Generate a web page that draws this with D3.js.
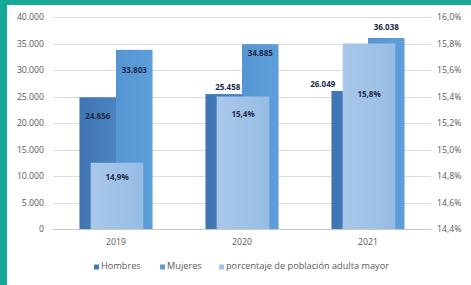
<!DOCTYPE html>
<html><head><meta charset="utf-8">
<script src="https://cdn.jsdelivr.net/npm/d3@7"></script>
<style>
html,body{margin:0;padding:0;background:#fff;}
svg{display:block;font-family:"Open Sans",Calibri,"Liberation Sans",sans-serif;}
</style></head>
<body><svg id="c" width="471" height="285"></svg>
<script>
const years = ["2019","2020","2021"];
const hombres = [24856, 25458, 26049];
const mujeres = [33803, 34885, 36038];
const porcentaje = [14.9, 15.4, 15.8];
const leftTicks = [0,5000,10000,15000,20000,25000,30000,35000,40000];
const rightTicks = [14.4,14.6,14.8,15.0,15.2,15.4,15.6,15.8,16.0];
const seriesNames = ["Hombres","Mujeres","porcentaje de población adulta mayor"];

const svg = d3.select("#c");
// background frame
svg.append("rect").attr("width",471).attr("height",285).attr("fill","#17a898");
svg.append("rect").attr("x",7).attr("y",5).attr("width",464).attr("height",280).attr("fill","#ffffff");

const L=53, R=431, T=17, B=229;
const x0 = d3.scaleBand().domain(years).range([L,R]).paddingInner(0.42).paddingOuter(0.21);
const x1 = d3.scaleBand().domain(["h","m"]).range([0,x0.bandwidth()]);
const y = d3.scaleLinear().domain([0,40000]).range([B,T]);
const y2 = d3.scaleLinear().domain([14.4,16.0]).range([B,T]);

const fmtN = v => d3.format(",")(v).replace(/,/g,".");
const fmtP = v => d3.format(".1f")(v).replace(".",",")+"%";

// grid
svg.append("g").selectAll("line").data(leftTicks).join("line")
  .attr("x1",L).attr("x2",R).attr("y1",d=>Math.round(y(d))+0.5).attr("y2",d=>Math.round(y(d))+0.5)
  .attr("stroke",d=>d===0?"#c8c8c8":"#dcdcdc").attr("stroke-width",1);

// axes
const axL = svg.append("g").attr("transform",`translate(${L},0)`)
  .call(d3.axisLeft(y).tickValues(leftTicks).tickFormat(d=>d===0?"0":fmtN(d)).tickSize(0).tickPadding(9));
const axR = svg.append("g").attr("transform",`translate(${R},0)`)
  .call(d3.axisRight(y2).tickValues(rightTicks).tickFormat(fmtP).tickSize(0).tickPadding(6));
const axB = svg.append("g").attr("transform",`translate(0,${B})`)
  .call(d3.axisBottom(x0).tickSize(0).tickPadding(10));
[axL,axR,axB].forEach(a=>{a.select(".domain").remove();
  a.selectAll("text").attr("fill","#595959").attr("font-size","8.7px").attr("font-family","'Open Sans',sans-serif");});

const defs = svg.append("defs");
function grad(id,c1,c2){const g=defs.append("linearGradient").attr("id",id).attr("x1",0).attr("x2",1).attr("y1",0).attr("y2",0);
  g.append("stop").attr("offset","0%").attr("stop-color",c1);g.append("stop").attr("offset","100%").attr("stop-color",c2);}
grad("gh","#3f74b2","#4c84c3");
grad("gm","#5595d2","#5e9fdb");
grad("gp","#a9c8ea","#97bce4");

const data = years.map((yr,i)=>({yr,h:hombres[i],m:mujeres[i],p:porcentaje[i]}));
const g = svg.append("g").selectAll("g").data(data).join("g").attr("transform",d=>`translate(${x0(d.yr)},0)`);
g.append("rect").attr("x",x1("h")).attr("width",x1.bandwidth()).attr("y",d=>y(d.h)).attr("height",d=>B-y(d.h)).attr("fill","url(#gh)");
g.append("rect").attr("x",x1("m")).attr("width",x1.bandwidth()).attr("y",d=>y(d.m)).attr("height",d=>B-y(d.m)).attr("fill","url(#gm)");
const pw = x0.bandwidth()*0.72;
g.append("rect").attr("x",(x0.bandwidth()-pw)/2+1).attr("width",pw).attr("y",d=>y2(d.p)).attr("height",d=>B-y2(d.p)).attr("fill","url(#gp)");

// data labels (offsets relative to bar tops, as placed in the original)
const hOff = [[0,20],[4,-6],[-27,-6]];
const mOff = [[0,21],[0,10],[0,-10]];
const pOff = [[0,15],[0,18],[0,51]];
const lab = (sel)=>sel.attr("text-anchor","middle").attr("dominant-baseline","middle")
  .attr("font-size","8px").attr("font-weight","bold").attr("fill","#1c2a48").attr("font-family","'Open Sans',sans-serif");
g.append("text").call(lab).attr("x",(d,i)=>x1("h")+x1.bandwidth()/2+hOff[i][0]).attr("y",(d,i)=>y(d.h)+hOff[i][1]).text(d=>fmtN(d.h));
g.append("text").call(lab).attr("x",(d,i)=>x1("m")+x1.bandwidth()/2+mOff[i][0]).attr("y",(d,i)=>y(d.m)+mOff[i][1]).text(d=>fmtN(d.m));
g.append("text").call(lab).attr("x",(d,i)=>x0.bandwidth()/2+1+pOff[i][0]).attr("y",(d,i)=>y2(d.p)+pOff[i][1]).text(d=>fmtP(d.p));

// legend
const legColors = ["#4079b8","#5a9ad6","#a3c4e8"];
const legX = [94,160,219];
const lg = svg.append("g").selectAll("g").data(seriesNames).join("g").attr("transform",(d,i)=>`translate(${legX[i]},267)`);
lg.append("rect").attr("x",0).attr("y",-2.5).attr("width",5).attr("height",5).attr("fill",(d,i)=>legColors[i]);
lg.append("text").attr("x",7).attr("y",0).attr("dominant-baseline","middle").attr("font-size","9.2px")
  .attr("fill","#595959").attr("font-family","'Open Sans',sans-serif").text(d=>d);
</script></body></html>
